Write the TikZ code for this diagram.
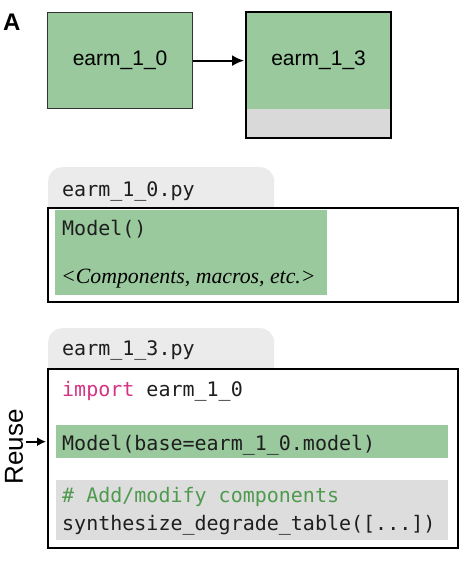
\documentclass[tikz,border=0pt]{standalone}
\usepackage{fontspec}
\setmainfont{Liberation Serif}
\setsansfont{Liberation Sans}
\setmonofont{DejaVu Sans Mono}
\usepackage{tikz}
\usetikzlibrary{arrows.meta,positioning,calc}

\definecolor{modelgreen}{RGB}{154,201,158}
\definecolor{addgray}{RGB}{217,217,217}
\definecolor{tabgray}{RGB}{235,235,235}
\definecolor{bandgray}{RGB}{221,221,221}
\definecolor{kwpink}{RGB}{214,51,132}
\definecolor{cmtgreen}{RGB}{78,154,78}
\definecolor{codeblack}{RGB}{30,30,30}

\tikzset{
  modelbox/.style={draw=black!80,line width=1.2pt,fill=modelgreen,inner sep=0pt,anchor=north west,
    font=\sffamily\fontsize{21}{25}\selectfont},
  filetab/.style={fill=tabgray,rounded corners=14pt,inner sep=0pt,anchor=north west,
    minimum width=226pt,minimum height=60pt},
  filebox/.style={draw=black,line width=2pt,fill=white,inner sep=0pt,anchor=north west,minimum width=410pt},
  band/.style={inner sep=0pt,anchor=north west},
  code/.style={font=\ttfamily\fontsize{20}{24}\selectfont,text=codeblack,inner sep=0pt,anchor=base west},
}

\begin{document}
\begin{tikzpicture}[x=1pt,y=-1pt]
  \useasboundingbox (0,0) rectangle (473,566);
  \node[font=\sffamily\bfseries\fontsize{24}{28}\selectfont,inner sep=0pt,anchor=base west] (panel) at (3,30) {A};

  % model graph
  \node[modelbox,minimum width=145pt,minimum height=96pt] (m10) at (47,12) {earm\_1\_0};
  \node[modelbox,draw=none,minimum width=144pt,minimum height=96pt] (m13) at (246,12) {earm\_1\_3};
  \node[band,fill=addgray,anchor=north,minimum width=144pt,minimum height=28pt] (m13add) at (m13.south) {};
  \draw[black,line width=1.8pt] (m13.north west) rectangle (m13add.south east);
  \draw[-{Latex[length=12pt,width=11pt]},line width=1.8pt,shorten >=2pt] (m10) -- (m13);

  % earm_1_0.py
  \node[filetab] (tab10) at (48,167) {};
  \node[code] (name10) at (62,196) {earm\_1\_0.py};
  \node[filebox,minimum height=94pt] (file10) at (47,207) {};
  \node[band,fill=modelgreen,minimum width=272pt,minimum height=85pt] (body10) at (55,210) {};
  \node[code] (model10) at (62,235) {Model()};
  \node[font=\itshape\fontsize{21.8}{25}\selectfont,inner sep=0pt,anchor=base west] (comp10) at (61,283) {<Components, macros, etc.>};

  % earm_1_3.py
  \node[filetab] (tab13) at (48,328) {};
  \node[code] (name13) at (62,355) {earm\_1\_3.py};
  \node[filebox,minimum height=179pt] (file13) at (47,368) {};
  \node[code] (imp13) at (62,396) {\textcolor{kwpink}{import} earm\_1\_0};
  \node[band,fill=modelgreen,minimum width=392pt,minimum height=33pt] (base13) at (56,425) {};
  \node[code] (model13) at (62,450) {Model(base=earm\_1\_0.model)};
  \node[band,fill=bandgray,minimum width=392pt,minimum height=60pt] (add13) at (56,480) {};
  \node[code,text=cmtgreen] (cmt13) at (62,502) {\# Add/modify components};
  \node[code] (synth13) at (62,530) {synthesize\_degrade\_table([...])};

  \node[font=\sffamily\fontsize{26}{30}\selectfont,rotate=90,inner sep=0pt] (reuse) at (14,447) {Reuse};
  \draw[-{Latex[length=9pt,width=9pt]},line width=1.6pt,shorten <=3pt,shorten >=1pt]
    (reuse.south |- base13.west) -- (file13.west |- base13.west);
\end{tikzpicture}
\end{document}
